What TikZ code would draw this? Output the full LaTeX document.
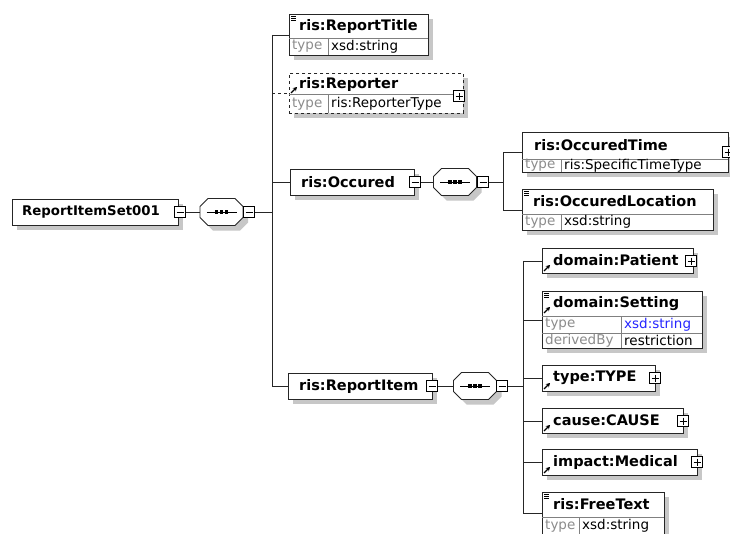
\documentclass[tikz,border=0pt]{standalone}
\usepackage{fontspec}
\setmainfont{DejaVu Sans}
\usetikzlibrary{shadows,arrows.meta}

\tikzset{
  elem/.style={draw=black!85, line width=0.8pt, fill=white, anchor=north west, inner sep=0pt,
    drop shadow={shadow xshift=5pt, shadow yshift=-5pt, fill=black!22, opacity=1}},
  seqbox/.style={rectangle, minimum width=43, minimum height=27, inner sep=0pt},
  minusbox/.style={draw, fill=white, minimum size=11, inner sep=0pt, line width=0.7pt,
    path picture={\draw ([xshift=2pt]path picture bounding box.west) -- ([xshift=-2pt]path picture bounding box.east);}},
  plusbox/.style={draw, fill=white, minimum size=11, inner sep=0pt, line width=0.7pt,
    path picture={\draw ([xshift=2pt]path picture bounding box.west) -- ([xshift=-2pt]path picture bounding box.east)
      ([yshift=-2pt]path picture bounding box.north) -- ([yshift=2pt]path picture bounding box.south);}},
  ttl/.style={anchor=west, inner sep=0pt, font=\bfseries\fontsize{14.5}{16}\selectfont},
  val/.style={anchor=west, inner sep=0pt, font=\fontsize{13.5}{15}\selectfont},
  tag/.style={val, text=black!45},
  rowline/.style={draw=black!50, line width=0.6pt},
  conn/.style={draw=black!85, line width=0.8pt},
  simpleicon/.pic={\draw[line width=0.6pt] (0,0) -- (5,0) (0,2) -- (5,2) (0,4) -- (5,4);},
  refarrow/.pic={\draw[-{Stealth[length=4pt,width=4.5pt]}, line width=1.2pt] (0,0) -- (6,-6);},
  octagon/.pic={
    \fill[black!22] (-16.5,-0.5) -- (-8.5,-8.5) -- (18.5,-8.5) -- (26.5,-0.5) -- (26.5,10.5)
      -- (18.5,18.5) -- (-8.5,18.5) -- (-16.5,10.5) -- cycle;
    \filldraw[fill=white, draw=black!85, line width=0.8pt] (-21.5,-5.5) -- (-13.5,-13.5) -- (13.5,-13.5)
      -- (21.5,-5.5) -- (21.5,5.5) -- (13.5,13.5) -- (-13.5,13.5) -- (-21.5,5.5) -- cycle;
    \draw[line width=1pt] (-15,0) -- (15,0);
    \foreach \d in {-5,0,5}
      \fill (\d-1.7,-1.7) rectangle (\d+1.7,1.7);
  }
}

\begin{document}
\begin{tikzpicture}[x=1pt,y=-1pt]
  \fill[white] (0,0) rectangle (730,533);
  \useasboundingbox (0,0) rectangle (730,533);

  % Root element and its sequence
  \node[elem, minimum width=166, minimum height=26] (root) at (12,199) {};
  \node[ttl, font=\bfseries\fontsize{13.3}{16}\selectfont] at (22,212) {ReportItemSet001};
  \node[minusbox] (rootm) at (180,212) {};
  \pic at (221.5,212) {octagon};
  \node[seqbox] (seq1) at (221.5,212) {};
  \node[minusbox] (seq1m) at (249,212) {};
  \coordinate (b1) at (272,0);
  \draw[conn] (rootm) -- (seq1);

  % ris:ReportTitle
  \node[elem, minimum width=139, minimum height=41] (title) at (289,14) {};
  \draw[rowline] (289,38) -- (428,38) (328,38) -- (328,55);
  \pic at (291,16) {simpleicon};
  \node[ttl] at (299,26) {ris:ReportTitle};
  \node[tag] at (292,46.5) {type};
  \node[val] at (331,46.5) {xsd:string};

  % ris:Reporter (optional)
  \node[elem, dashed, minimum width=174, minimum height=40] (reporter) at (289,73) {};
  \draw[rowline] (289,94) -- (463,94) (328,94) -- (328,113);
  \pic at (291,93) {refarrow};
  \node[ttl] at (299,84) {ris:Reporter};
  \node[tag] at (292,104) {type};
  \node[val] at (331,104) {ris:ReporterType};
  \node[plusbox] (reporterp) at (459,96) {};

  % ris:Occured
  \node[elem, minimum width=124, minimum height=26] (occured) at (290,169) {};
  \node[ttl] at (301,182) {ris:Occured};
  \node[minusbox] (occuredm) at (415,182) {};
  \pic at (455,182) {octagon};
  \node[seqbox] (seq2) at (455,182) {};
  \node[minusbox] (seq2m) at (483,182) {};
  \coordinate (b2) at (503,0);
  \draw[conn] (occuredm) -- (seq2);

  % ris:ReportItem
  \node[elem, minimum width=144, minimum height=26] (item) at (288,373) {};
  \node[ttl] at (299,386) {ris:ReportItem};
  \node[minusbox] (itemm) at (432,386) {};
  \pic at (475,386) {octagon};
  \node[seqbox] (seq3) at (475,386) {};
  \node[minusbox] (seq3m) at (502,386) {};
  \coordinate (b3) at (523,0);
  \draw[conn] (itemm) -- (seq3);

  % first level connectors
  \draw[conn] (seq1m) -- (seq1m -| b1);
  \draw[conn] (title.west -| b1) -- (item.west -| b1);
  \draw[conn] (title.west -| b1) -- (title.west);
  \draw[conn, dashed] (reporter.west -| b1) -- (reporter.west);
  \draw[conn] (occured.west -| b1) -- (occured.west);
  \draw[conn] (item.west -| b1) -- (item.west);

  % ris:OccuredTime
  \node[elem, minimum width=206, minimum height=40] (otime) at (522,132) {};
  \draw[rowline] (522,159) -- (728,159) (561,159) -- (561,172);
  \node[ttl] at (534,145.5) {ris:OccuredTime};
  \node[tag] at (525,165.5) {type};
  \node[val] at (564,165.5) {ris:SpecificTimeType};
  \node[plusbox] (otimep) at (728,152) {};

  % ris:OccuredLocation
  \node[elem, minimum width=191, minimum height=41] (oloc) at (522,189) {};
  \draw[rowline] (522,214) -- (713,214) (561,214) -- (561,230);
  \pic at (524,191) {simpleicon};
  \node[ttl] at (533,201.5) {ris:OccuredLocation};
  \node[tag] at (525,222) {type};
  \node[val] at (564,222) {xsd:string};

  \draw[conn] (seq2m) -- (seq2m -| b2);
  \draw[conn] (otime.west -| b2) -- (oloc.west -| b2);
  \draw[conn] (otime.west -| b2) -- (otime.west);
  \draw[conn] (oloc.west -| b2) -- (oloc.west);

  % domain:Patient
  \node[elem, minimum width=151, minimum height=25] (patient) at (542,248) {};
  \pic at (544,271) {refarrow};
  \node[ttl] at (553,260.5) {domain:Patient};
  \node[plusbox] (patientp) at (691,261) {};

  % domain:Setting
  \node[elem, minimum width=160, minimum height=57] (setting) at (542,291) {};
  \draw[rowline] (542,316) -- (702,316) (542,333) -- (702,333) (621,316) -- (621,348);
  \pic at (544,293) {simpleicon};
  \pic at (544,313) {refarrow};
  \node[ttl] at (553,303.5) {domain:Setting};
  \node[tag] at (545,324.5) {type};
  \node[val, text=blue!85] at (624,324.5) {xsd:string};
  \node[tag] at (545,340.5) {derivedBy};
  \node[val] at (624,340.5) {restriction};

  % type:TYPE
  \node[elem, minimum width=113, minimum height=26] (type) at (542,365) {};
  \pic at (544,389) {refarrow};
  \node[ttl] at (553,378) {type:TYPE};
  \node[plusbox] (typep) at (655,378) {};

  % cause:CAUSE
  \node[elem, minimum width=141, minimum height=25] (cause) at (542,408) {};
  \pic at (544,431) {refarrow};
  \node[ttl] at (553,420.5) {cause:CAUSE};
  \node[plusbox] (causep) at (683,421) {};

  % impact:Medical
  \node[elem, minimum width=155, minimum height=26] (impact) at (542,449) {};
  \pic at (544,473) {refarrow};
  \node[ttl] at (553,462) {impact:Medical};
  \node[plusbox] (impactp) at (697,462) {};

  % ris:FreeText
  \node[elem, minimum width=122, minimum height=42] (free) at (542,492) {};
  \draw[rowline] (542,517) -- (664,517) (579,517) -- (579,534);
  \pic at (544,494) {simpleicon};
  \node[ttl] at (553,504.5) {ris:FreeText};
  \node[tag] at (545,526) {type};
  \node[val] at (582,526) {xsd:string};

  \draw[conn] (seq3m) -- (seq3m -| b3);
  \draw[conn] (patient.west -| b3) -- (free.west -| b3);
  \foreach \n in {patient,setting,type,cause,impact,free}
    \draw[conn] (\n.west -| b3) -- (\n.west);
\end{tikzpicture}
\end{document}
